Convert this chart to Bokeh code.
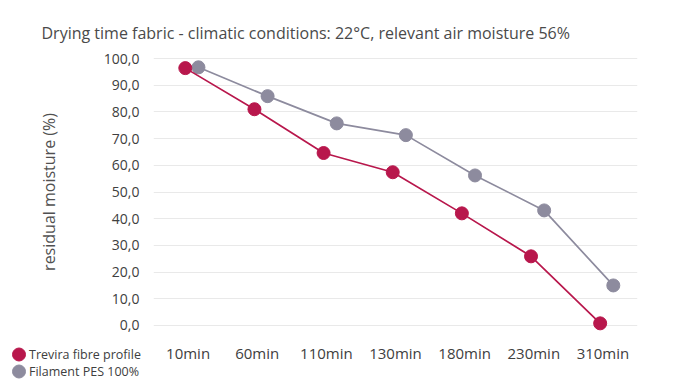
from bokeh.plotting import figure
from bokeh.layouts import column, row
from bokeh.models import FactorRange, Range1d, FixedTicker, ColumnDataSource
from bokeh.core.properties import value
from bokeh.transform import dodge
from bokeh.embed import file_html
from bokeh.resources import INLINE

categories = ["10min", "60min", "110min", "130min", "180min", "230min", "310min"]
trevira = [96.4, 81.0, 64.6, 57.4, 42.0, 25.9, 0.8]
filament = [96.7, 85.9, 75.7, 71.3, 56.2, 43.1, 15.0]
y_ticks = [0, 10, 20, 30, 40, 50, 60, 70, 80, 90, 100]
y_tick_labels = ["0,0", "10,0", "20,0", "30,0", "40,0", "50,0", "60,0", "70,0", "80,0", "90,0", "100,0"]
series_names = ["Trevira fibre profile", "Filament PES 100%"]
title_text = "Drying time fabric - climatic conditions: 22°C, relevant air moisture 56%"
y_label = "residual moisture (%)"

RED = "#B8174C"
GRAY = "#8D8B9E"
TXT = "#404040"
FONT = "Open Sans"

xr = FactorRange(factors=categories)

# ---- main chart ----
p = figure(width=682, height=338, x_range=xr, y_range=Range1d(-3, 103),
           output_backend="svg", toolbar_location=None, x_axis_location=None,
           min_border_left=153, min_border_right=45, min_border_top=50, min_border_bottom=5)
p.outline_line_color = None
p.background_fill_color = "white"
p.border_fill_color = "white"

p.title.text = title_text
p.title.align = "left"
p.title.offset = -112
p.title.text_font = FONT
p.title.text_font_size = "16px"
p.title.text_font_style = "normal"
p.title.text_color = "#4A4A4A"
p.title.standoff = 14

p.xgrid.grid_line_color = None
p.ygrid.grid_line_color = "#E9E9E9"
p.ygrid.grid_line_width = 1
p.ygrid.ticker = FixedTicker(ticks=y_ticks)

ya = p.yaxis[0]
ya.ticker = FixedTicker(ticks=y_ticks)
ya.major_label_overrides = {t: l for t, l in zip(y_ticks, y_tick_labels)}
ya.axis_line_color = None
ya.major_tick_line_color = None
ya.minor_tick_line_color = None
ya.major_tick_out = 0
ya.major_tick_in = 0
ya.major_label_text_color = TXT
ya.major_label_text_font = FONT
ya.major_label_text_font_size = "14px"
ya.major_label_standoff = 14
ya.axis_label = y_label
ya.axis_label_text_font = FONT
ya.axis_label_text_font_size = "16px"
ya.axis_label_text_font_style = "normal"
ya.axis_label_text_color = "#505050"
ya.axis_label_standoff = 41

source = ColumnDataSource(dict(x=categories, a=trevira, b=filament))

p.line(x=dodge("x", 0.15, range=xr), y="b", source=source, line_color=GRAY, line_width=1.7)
p.scatter(x=dodge("x", 0.15, range=xr), y="b", source=source, size=13,
          fill_color=GRAY, line_color=GRAY)
p.line(x=dodge("x", -0.04, range=xr), y="a", source=source, line_color=RED, line_width=1.7)
p.scatter(x=dodge("x", -0.04, range=xr), y="a", source=source, size=13,
          fill_color=RED, line_color=RED)

# ---- legend (bottom-left), drawn in a small pixel-scaled panel ----
lf = figure(width=153, height=51, x_range=Range1d(0, 153), y_range=Range1d(51, 0),
            output_backend="svg", toolbar_location=None,
            x_axis_location=None, y_axis_location=None, min_border=0)
lf.outline_line_color = None
lf.grid.visible = False
lf.border_fill_color = "white"
leg_src = ColumnDataSource(dict(
    x=[18.5, 18.5], y=[16, 33], label=series_names, color=[RED, GRAY]))
lf.scatter(x="x", y="y", source=leg_src, size=13, fill_color="color", line_color="color")
lf.text(x=dodge("x", 10, range=lf.x_range), y="y", text="label", source=leg_src,
        text_font=value(FONT), text_font_size="12.5px", text_color=TXT,
        text_baseline="middle", text_align="left")

# ---- category labels (bottom), placed with the shared category scale ----
af = figure(width=529, height=51, x_range=xr, y_range=Range1d(51, 0),
            output_backend="svg", toolbar_location=None,
            x_axis_location=None, y_axis_location=None,
            min_border_left=0, min_border_right=45, min_border_top=0, min_border_bottom=0)
af.outline_line_color = None
af.grid.visible = False
af.border_fill_color = "white"
cat_src = ColumnDataSource(dict(x=categories, y=[14.5] * len(categories)))
af.text(x="x", y="y", text="x", source=cat_src,
        text_font=value(FONT), text_font_size="15px", text_color=TXT,
        text_baseline="middle", text_align="center")

layout = column(p, row(lf, af, spacing=0), spacing=0)

open("out.html", "w").write(file_html(layout, INLINE))
